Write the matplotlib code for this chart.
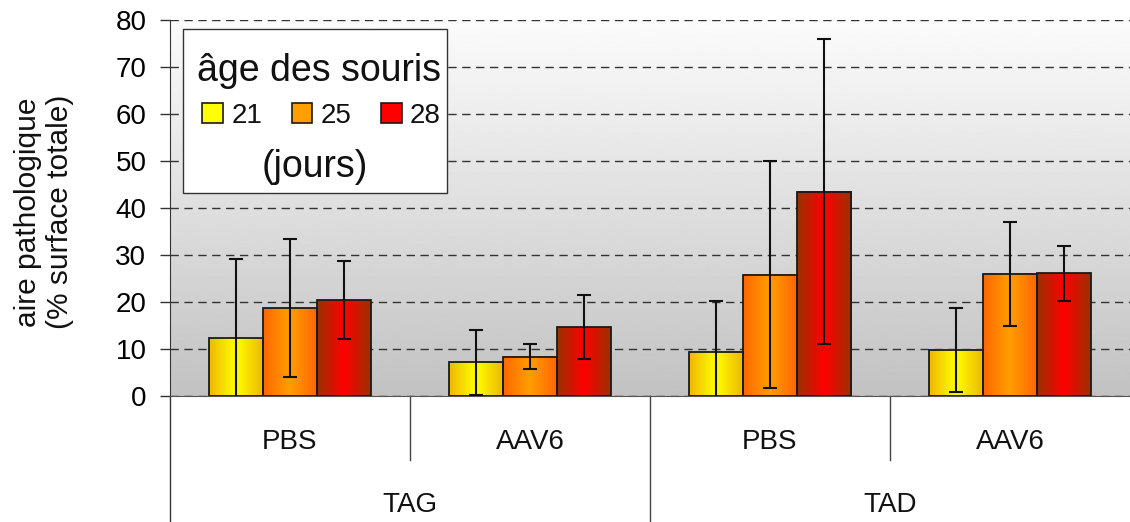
import numpy as np
import matplotlib.pyplot as plt
from matplotlib.patches import Rectangle, Patch
from matplotlib.transforms import blended_transform_factory

plt.rcParams['font.family'] = ['Liberation Sans', 'DejaVu Sans']
plt.rcParams['text.color'] = '#111111'

groups = ["PBS", "AAV6", "PBS", "AAV6"]
treatments = ["TAG", "TAD"]
ages = ["21", "25", "28"]

# aire pathologique moyenne (% surface totale) et écart-type, par âge
mean_21 = [12.3, 7.2, 9.4, 9.8]
mean_25 = [18.7, 8.4, 25.8, 26.0]
mean_28 = [20.4, 14.65, 43.5, 26.1]
err_21 = [16.8, 6.9, 10.8, 9.0]
err_25 = [14.7, 2.65, 24.1, 11.0]
err_28 = [8.3, 6.75, 32.4, 5.8]

# couleurs bord / centre du dégradé de chaque série
edge_cols = [(0.93, 0.72, 0.0), (1.0, 0.40, 0.0), (0.60, 0.20, 0.0)]
center_cols = [(1.0, 1.0, 0.0), (1.0, 0.62, 0.0), (1.0, 0.0, 0.0)]


def gradient_img(c_edge, c_center, n=200):
    t = np.linspace(0, 1, n)
    prof = 1 - np.abs(2 * t - 1)
    img = np.array(c_edge)[None, :] + (np.array(c_center) - np.array(c_edge))[None, :] * prof[:, None]
    return img[None, :, :]


fig = plt.figure(figsize=(11.3, 5.22), dpi=100)
ax = fig.add_axes([170 / 1130, 126 / 522, 960 / 1130, 376 / 522])
ax.set_autoscale_on(False)
ax.set_xlim(-0.5, 3.5)
ax.set_ylim(0, 80)

# fond en dégradé gris
bg = np.linspace(0.76, 0.985, 256)[:, None]
ax.imshow(bg, cmap='gray', vmin=0, vmax=1, extent=[0, 1, 0, 1], transform=ax.transAxes,
          aspect='auto', origin='lower', zorder=0)

x = np.arange(len(groups))
width = 0.225
means = [mean_21, mean_25, mean_28]
errs = [err_21, err_25, err_28]

for i in range(3):
    pos = x + (i - 1) * width
    bars = ax.bar(pos, means[i], width, facecolor='none', edgecolor='#1a1a1a',
                  linewidth=1.3, zorder=3)
    img = gradient_img(edge_cols[i], center_cols[i])
    for b in bars:
        ax.imshow(img, extent=[b.get_x(), b.get_x() + b.get_width(), 0, b.get_height()],
                  aspect='auto', interpolation='bilinear', zorder=2)
    ax.errorbar(pos, means[i], yerr=errs[i], fmt='none', ecolor='#111111',
                elinewidth=1.5, capsize=5, capthick=1.5, zorder=4)

ax.set_xlim(-0.5, 3.5)
ax.set_ylim(0, 80)

ax.set_yticks(range(0, 81, 10))
ax.yaxis.grid(True, linestyle=(0, (6, 4)), color='#333333', linewidth=1)
ax.set_axisbelow(True)
ax.tick_params(axis='y', labelsize=20, length=7, width=1, pad=10, color='#333333')
ax.set_xticks([])
for s in ['top', 'right']:
    ax.spines[s].set_visible(False)
ax.spines['bottom'].set_color('#555555')
ax.spines['left'].set_color('#333333')

# axe des catégories à deux niveaux
tr = blended_transform_factory(ax.transData, ax.transAxes)
ax.plot([-0.5, -0.5], [0, -0.335], transform=tr, color='#333333', lw=1, clip_on=False)
for sx, depth in [(0.5, -0.17), (1.5, -0.335), (2.5, -0.17)]:
    ax.plot([sx, sx], [0, depth], transform=tr, color='#444444', lw=1, clip_on=False)
for xi, g in zip(x, groups):
    ax.text(xi, -0.122, g, transform=tr, ha='center', va='center', fontsize=20)
for k, t in enumerate(treatments):
    ax.text(2 * k + 0.5, -0.29, t, transform=tr, ha='center', va='center', fontsize=20)

fig.text(0.039, 0.594, "aire pathologique\n(% surface totale)", rotation=90,
         ha='center', va='center', fontsize=21.5, linespacing=1.15)

# légende
ax.add_patch(Rectangle((0.0135, 0.540), 0.275, 0.436, transform=ax.transAxes,
                       facecolor='white', edgecolor='#333333', lw=1, zorder=5))
ax.text(0.1547, 0.864, "âge des souris", transform=ax.transAxes, ha='center',
        va='center', fontsize=27, zorder=6)
ax.text(0.151, 0.608, "(jours)", transform=ax.transAxes, ha='center',
        va='center', fontsize=27, zorder=6)
handles = [Patch(facecolor=center_cols[i], edgecolor='#1a1a1a', lw=1.2) for i in range(3)]
leg = ax.legend(handles, ages, ncol=3, loc='center', bbox_to_anchor=(0.158, 0.745),
                frameon=False, fontsize=20, handlelength=0.75, handleheight=0.75,
                handletextpad=0.3, columnspacing=1.05, borderpad=0)
leg.set_zorder(7)

fig.savefig("out.png", dpi=100)
